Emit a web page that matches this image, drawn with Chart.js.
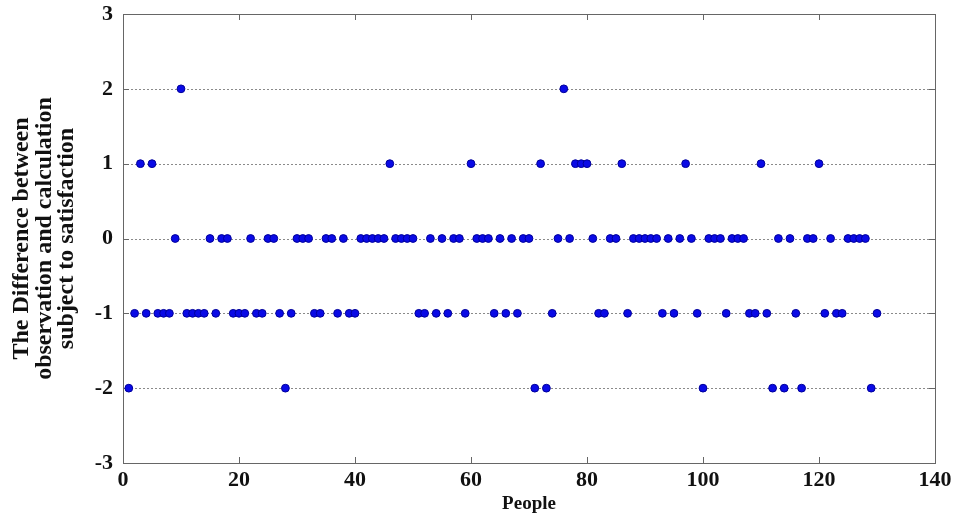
<!DOCTYPE html>
<html>
<head>
<meta charset="utf-8">
<script src="https://cdn.jsdelivr.net/npm/chart.js@4/dist/chart.umd.min.js"></script>
<style>
html,body{margin:0;padding:0;background:#fff;}
#wrap{width:958px;height:517px;}
</style>
</head>
<body>
<div id="wrap"><canvas id="c" width="958" height="517"></canvas></div>
<script>
// Difference (observation - calculation) for people 1..130
const differences = [
 -2,-1, 1,-1, 1,-1,-1,-1, 0, 2,   // 1-10
 -1,-1,-1,-1, 0,-1, 0, 0,-1,-1,   // 11-20
 -1, 0,-1,-1, 0, 0,-1,-2,-1, 0,   // 21-30
  0, 0,-1,-1, 0, 0,-1, 0,-1,-1,   // 31-40
  0, 0, 0, 0, 0, 1, 0, 0, 0, 0,   // 41-50
 -1,-1, 0,-1, 0,-1, 0, 0,-1, 1,   // 51-60
  0, 0, 0,-1, 0,-1, 0,-1, 0, 0,   // 61-70
 -2, 1,-2,-1, 0, 2, 0, 1, 1, 1,   // 71-80
  0,-1,-1, 0, 0, 1,-1, 0, 0, 0,   // 81-90
  0, 0,-1, 0,-1, 0, 1, 0,-1,-2,   // 91-100
  0, 0, 0,-1, 0, 0, 0,-1,-1, 1,   // 101-110
 -1,-2, 0,-2, 0,-1,-2, 0, 0, 1,   // 111-120
 -1, 0,-1,-1, 0, 0, 0, 0,-2,-1    // 121-130
];
const people = differences.map((_, i) => i + 1);
const xTicks = [0, 20, 40, 60, 80, 100, 120, 140];
const yTicks = [-3, -2, -1, 0, 1, 2, 3];
const xTitle = 'People';
const yTitle = ['The Difference between', 'observation and calculation', 'subject to satisfaction'];

const points = people.map((p, i) => ({x: p, y: differences[i]}));

const frame = {
  id: 'frame',
  beforeDatasetsDraw(chart) {
    const {ctx, chartArea: a, scales: {x, y}} = chart;
    ctx.save();
    ctx.strokeStyle = '#8a8a8a';
    ctx.lineWidth = 1;
    ctx.setLineDash([2, 2]);
    yTicks.forEach(v => {
      if (v === yTicks[0] || v === yTicks[yTicks.length - 1]) return;
      const py = Math.round(y.getPixelForValue(v)) + 0.5;
      ctx.beginPath(); ctx.moveTo(a.left, py); ctx.lineTo(a.right, py); ctx.stroke();
    });
    ctx.setLineDash([]);
    ctx.strokeStyle = '#666';
    ctx.strokeRect(Math.round(a.left) + 0.5, Math.round(a.top) + 0.5, Math.round(a.right - a.left), Math.round(a.bottom - a.top));
    const L = 6;
    xTicks.forEach(v => {
      const px = Math.round(x.getPixelForValue(v)) + 0.5;
      ctx.beginPath(); ctx.moveTo(px, a.bottom); ctx.lineTo(px, a.bottom - L); ctx.stroke();
      ctx.beginPath(); ctx.moveTo(px, a.top); ctx.lineTo(px, a.top + L); ctx.stroke();
    });
    yTicks.forEach(v => {
      const py = Math.round(y.getPixelForValue(v)) + 0.5;
      ctx.beginPath(); ctx.moveTo(a.left, py); ctx.lineTo(a.left + L, py); ctx.stroke();
      ctx.beginPath(); ctx.moveTo(a.right, py); ctx.lineTo(a.right - L, py); ctx.stroke();
    });
    ctx.restore();
  }
};

const font = 'Liberation Serif';
new Chart(document.getElementById('c'), {
  type: 'scatter',
  data: {
    datasets: [{
      data: points,
      backgroundColor: '#0a0ae6',
      borderColor: '#00009a',
      borderWidth: 1,
      pointRadius: 3.9,
      pointHoverRadius: 3.9
    }]
  },
  options: {
    responsive: false,
    animation: false,
    events: [],
    layout: {padding: {top: 14, right: 23, left: 0, bottom: 0}},
    plugins: {legend: {display: false}, tooltip: {enabled: false}},
    scales: {
      x: {
        type: 'linear', min: 0, max: 140,
        afterBuildTicks: s => { s.ticks = xTicks.map(v => ({value: v})); },
        afterFit: s => { s.height = 54; s.paddingLeft = 0; s.paddingRight = 0; },
        grid: {display: false, drawTicks: false},
        border: {display: false},
        ticks: {color: '#111', padding: 4, font: {family: font, size: 22, weight: 'bold'}},
        title: {display: true, text: xTitle, color: '#111', padding: {top: 0, bottom: 2},
                font: {family: font, size: 19, weight: 'bold'}}
      },
      y: {
        min: -3, max: 3,
        afterBuildTicks: s => { s.ticks = yTicks.map(v => ({value: v})); },
        afterFit: s => { s.width = 123; s.paddingTop = 0; s.paddingBottom = 0; },
        grid: {display: false, drawTicks: false},
        border: {display: false},
        ticks: {color: '#111', padding: 10, font: {family: font, size: 22, weight: 'bold'}},
        title: {display: true, text: yTitle, color: '#111', padding: {top: 11, bottom: 0},
                font: {family: font, size: 24, weight: 'bold', lineHeight: 0.93}}
      }
    }
  },
  plugins: [frame]
});
</script>
</body>
</html>
